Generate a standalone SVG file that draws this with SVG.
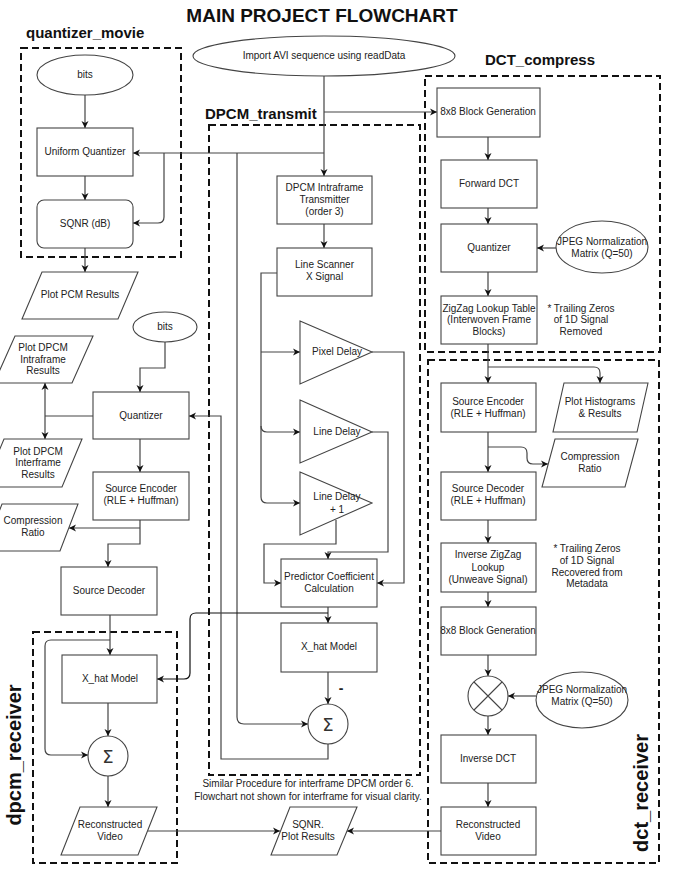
<svg xmlns="http://www.w3.org/2000/svg" width="675" height="871" viewBox="0 0 675 871">
<defs>
<marker id="arr" markerWidth="8" markerHeight="8" refX="7" refY="4" orient="auto-start-reverse" markerUnits="userSpaceOnUse"><path d="M0,0.5 L7,4 L0,7.5 L2,4 Z" fill="#111"/></marker>
<style>
text{font-family:"Liberation Sans",Arial,sans-serif;font-size:10px;fill:#222;text-anchor:middle}
.title{font-size:19px;font-weight:bold;fill:#111}
.lbl{font-size:15px;font-weight:bold;fill:#111;text-anchor:start}
.vlbl{font-size:20px;font-weight:bold;fill:#111}
.box{fill:#fff;stroke:#444;stroke-width:1.1}
.grp{fill:none;stroke:#111;stroke-width:2;stroke-dasharray:7 4}
.c{fill:none;stroke:#444;stroke-width:1.2;marker-end:url(#arr)}
.n{fill:none;stroke:#444;stroke-width:1.2}
.sig{font-family:"DejaVu Sans",sans-serif;font-size:18px;fill:#333}
</style>
</defs>
<rect width="675" height="871" fill="#fff"/>
<text class="title" x="322" y="22">MAIN PROJECT FLOWCHART</text>

<g id="groups">
<rect class="grp" x="21" y="48" width="160" height="209"/>
<text class="lbl" x="26" y="38">quantizer_movie</text>
<rect class="grp" x="209" y="125" width="211" height="650"/>
<text class="lbl" x="205" y="119">DPCM_transmit</text>
<rect class="grp" x="425" y="76" width="235" height="276"/>
<text class="lbl" x="485" y="65">DCT_compress</text>
<rect class="grp" x="428" y="360" width="231" height="503"/>
<text class="vlbl" transform="translate(648,793) rotate(-90)">dct_receiver</text>
<rect class="grp" x="33" y="632" width="144" height="231"/>
<text class="vlbl" transform="translate(21,755) rotate(-90)">dpcm_receiver</text>
</g>

<g id="connectors">
<path class="c" d="M324,76 V176"/>
<path class="c" d="M324,112 H437"/>
<path class="c" d="M324,153 H133"/>
<path class="c" d="M164,153 V217 Q164,223 158,223 H133"/>
<path class="c" d="M237,153 V717 Q237,724 244,724 H308"/>
<path class="c" d="M85,95 V128"/>
<path class="c" d="M85,176 V200"/>
<path class="c" d="M85,248 V272"/>
<path class="c" d="M324,224 V248"/>
<path class="c" d="M277,273 H261 V497 Q261,503 267,503 H300"/>
<path class="c" d="M261,352 H300"/>
<path class="c" d="M261,426 Q261,432 267,432 H300"/>
<path class="c" d="M372,352 H404 V583 H377"/>
<path class="c" d="M372,432 H388 V552 H328 V559"/>
<path class="c" d="M336,520 V544 H264 V583 H281"/>
<path class="c" d="M328,607 V623"/>
<path class="c" style="stroke:#111" d="M328,613 H196 Q190,613 190,619 V673 Q190,679 184,679 H157"/>
<path class="c" d="M328,672 V704"/>
<path class="c" d="M328,744 V759 H221 V416 H189"/>
<path class="c" d="M165,342 V368 H140 V392"/>
<path class="n" d="M93,416 H45"/>
<path class="c" d="M45,416 V383"/>
<path class="c" d="M45,416 V439"/>
<path class="c" d="M140,439 V472"/>
<path class="c" d="M140,520 V544 H108 V567"/>
<path class="c" d="M140,528 H69"/>
<path class="c" d="M110,615 V655"/>
<path class="c" d="M110,640 H51 Q45,640 45,646 V749 Q45,755 51,755 H88"/>
<path class="c" d="M108,703 V736"/>
<path class="c" d="M108,776 V807"/>
<path class="c" d="M148,831 H280"/>
<path class="c" d="M441,831 H347"/>
<path class="c" d="M488,137 V160"/>
<path class="c" d="M488,208 V224"/>
<path class="c" d="M556,248 H537"/>
<path class="c" d="M488,272 V296"/>
<path class="c" d="M488,344 V383"/>
<path class="c" d="M488,367 H594 Q600,367 600,373 V383"/>
<path class="c" d="M488,432 V472"/>
<path class="c" d="M488,447 H521 Q527,447 527,453 V458 Q527,464 533,464 H548"/>
<path class="c" d="M488,520 V543"/>
<path class="c" d="M488,592 V607"/>
<path class="c" d="M488,655 V676"/>
<path class="c" d="M536,696 H508"/>
<path class="c" d="M488,716 V735"/>
<path class="c" d="M488,783 V807"/>
</g>

<g id="import"><ellipse class="box" cx="324" cy="56" rx="131" ry="20"/><text x="324" y="59">Import AVI sequence using readData</text></g>

<g id="bits1"><ellipse class="box" cx="85" cy="75" rx="48" ry="20"/><text x="85" y="78">bits</text></g>
<g id="uniform-quantizer"><rect class="box" x="37" y="128" width="96" height="48"/><text x="85" y="155">Uniform Quantizer</text></g>
<g id="sqnr-db"><rect class="box" x="37" y="200" width="96" height="48" rx="7"/><text x="85" y="227">SQNR (dB)</text></g>
<g id="plot-pcm"><polygon class="box" points="42,272 138,272 118,319 22,319"/><text x="80" y="298">Plot PCM Results</text></g>

<g id="dpcm-intraframe"><rect class="box" x="277" y="176" width="95" height="48"/><text x="324.5" y="191">DPCM Intraframe</text><text x="324.5" y="203">Transmitter</text><text x="324.5" y="215">(order 3)</text></g>
<g id="line-scanner"><rect class="box" x="277" y="248" width="95" height="48"/><text x="324.5" y="268">Line Scanner</text><text x="324.5" y="280">X Signal</text></g>
<g id="pixel-delay"><polygon class="box" points="300,321 372,352 300,384"/><text x="337" y="355">Pixel Delay</text></g>
<g id="line-delay"><polygon class="box" points="300,400 372,432 300,463"/><text x="337" y="435">Line Delay</text></g>
<g id="line-delay-1"><polygon class="box" points="300,472 372,503 300,535"/><text x="337" y="500">Line Delay</text><text x="337" y="513">+ 1</text></g>
<g id="predictor"><rect class="box" x="281" y="559" width="96" height="48"/><text x="329" y="580">Predictor Coefficient</text><text x="329" y="592">Calculation</text></g>
<g id="xhat-tx"><rect class="box" x="281" y="623" width="96" height="49"/><text x="329" y="650">X_hat Model</text></g>
<g id="sum-tx"><circle class="box" cx="328" cy="724" r="20"/><text class="sig" x="328" y="731">Σ</text><text x="341" y="693" style="font-size:14px;font-weight:bold">-</text></g>

<g id="bits2"><ellipse class="box" cx="165" cy="327" rx="32" ry="15"/><text x="165" y="330">bits</text></g>
<g id="quantizer-l"><rect class="box" x="93" y="392" width="96" height="47"/><text x="141" y="419">Quantizer</text></g>
<g id="plot-intra"><polygon class="box" points="15,336 93,336 72,383 -6,383"/><text x="43" y="351">Plot DPCM</text><text x="43" y="363">Intraframe</text><text x="43" y="374">Results</text></g>
<g id="plot-inter"><polygon class="box" points="4,439 82,439 62,487 -16,487"/><text x="38" y="455">Plot DPCM</text><text x="38" y="466">Interframe</text><text x="38" y="478">Results</text></g>
<g id="cr-l"><polygon class="box" points="2,504 78,504 60,551 -16,551"/><text x="33" y="524">Compression</text><text x="33" y="536">Ratio</text></g>
<g id="src-enc-l"><rect class="box" x="93" y="472" width="96" height="48"/><text x="141" y="492">Source Encoder</text><text x="141" y="504">(RLE + Huffman)</text></g>
<g id="src-dec-l"><rect class="box" x="61" y="567" width="96" height="48"/><text x="109" y="594">Source Decoder</text></g>
<g id="xhat-rx"><rect class="box" x="62" y="655" width="95" height="48"/><text x="110" y="682">X_hat Model</text></g>
<g id="sum-rx"><circle class="box" cx="108" cy="756" r="20"/><text class="sig" x="108" y="763">Σ</text></g>
<g id="recon-l"><polygon class="box" points="80,807 157,807 138,855 61,855"/><text x="110" y="828">Reconstructed</text><text x="110" y="840">Video</text></g>
<g id="sqnr-plot"><polygon class="box" points="290,807 357,807 337,855 271,855"/><text x="308" y="828">SQNR.</text><text x="308" y="840">Plot Results</text></g>
<g id="note-interframe"><text x="308" y="787">Similar Procedure for interframe DPCM order 6.</text><text x="308" y="800">Flowchart not shown for interframe for visual clarity.</text></g>

<g id="block8-c"><rect class="box" x="437" y="88" width="103" height="49"/><text x="488" y="115">8x8 Block Generation</text></g>
<g id="fdct"><rect class="box" x="441" y="160" width="96" height="48"/><text x="489" y="187">Forward DCT</text></g>
<g id="quantizer-r"><rect class="box" x="441" y="224" width="96" height="48"/><text x="489" y="251">Quantizer</text></g>
<g id="jpeg1"><ellipse class="box" cx="602" cy="247" rx="46" ry="26"/><text x="602" y="245">JPEG Normalization</text><text x="602" y="257">Matrix (Q=50)</text></g>
<g id="zigzag"><rect class="box" x="441" y="296" width="96" height="48"/><text x="489" y="312">ZigZag Lookup Table</text><text x="489" y="323">(Interwoven Frame</text><text x="489" y="335">Blocks)</text></g>
<g id="note-zeros1"><text x="581" y="312">* Trailing Zeros</text><text x="581" y="323">of 1D Signal</text><text x="581" y="335">Removed</text></g>

<g id="src-enc-r"><rect class="box" x="441" y="383" width="95" height="49"/><text x="488" y="405">Source Encoder</text><text x="488" y="417">(RLE + Huffman)</text></g>
<g id="plot-hist"><polygon class="box" points="564,383 648,383 637,432 553,432"/><text x="600" y="405">Plot Histograms</text><text x="600" y="417">&amp; Results</text></g>
<g id="cr-r"><polygon class="box" points="555,439 638,439 625,487 542,487"/><text x="590" y="460">Compression</text><text x="590" y="472">Ratio</text></g>
<g id="src-dec-r"><rect class="box" x="441" y="472" width="95" height="48"/><text x="488" y="492">Source Decoder</text><text x="488" y="504">(RLE + Huffman)</text></g>
<g id="izigzag"><rect class="box" x="441" y="543" width="95" height="49"/><text x="488" y="558">Inverse ZigZag</text><text x="488" y="571">Lookup</text><text x="488" y="583">(Unweave Signal)</text></g>
<g id="note-zeros2"><text x="587" y="552">* Trailing Zeros</text><text x="587" y="564">of 1D Signal</text><text x="587" y="576">Recovered from</text><text x="587" y="587">Metadata</text></g>
<g id="block8-r"><rect class="box" x="441" y="607" width="95" height="48"/><text x="488" y="634">8x8 Block Generation</text></g>
<g id="mult"><circle class="box" cx="488" cy="696" r="20"/><path d="M474,682 L502,710 M502,682 L474,710" stroke="#444" stroke-width="1.1"/></g>
<g id="jpeg2"><ellipse class="box" cx="582" cy="700" rx="46" ry="28"/><text x="582" y="693">JPEG Normalization</text><text x="582" y="705">Matrix (Q=50)</text></g>
<g id="idct"><rect class="box" x="441" y="735" width="95" height="48"/><text x="488" y="762">Inverse DCT</text></g>
<g id="recon-r"><rect class="box" x="441" y="807" width="95" height="48"/><text x="488" y="828">Reconstructed</text><text x="488" y="840">Video</text></g>
</svg>
